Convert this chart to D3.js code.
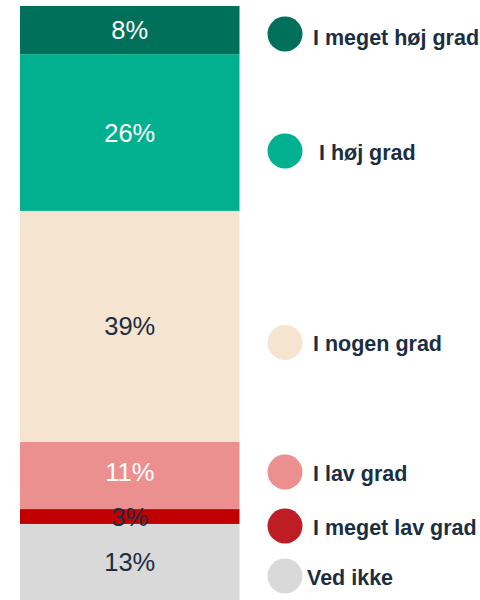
<!DOCTYPE html>
<html>
<head>
<meta charset="utf-8">
<script src="https://cdn.jsdelivr.net/npm/d3@7"></script>
<style>
  html, body { margin: 0; padding: 0; background: #fff; }
  svg { display: block; }
  text { font-family: "Liberation Sans", Arial, sans-serif; white-space: pre; }
</style>
</head>
<body>
<svg id="chart" width="480" height="600"></svg>
<script>
// Data
const categories = ["I meget høj grad", "I høj grad", "I nogen grad", "I lav grad", "I meget lav grad", "Ved ikke"];
const legendLabels = [" I meget høj grad", "  I høj grad", " I nogen grad", " I lav grad", " I meget lav grad", "Ved ikke"];
const values = [8.1, 26.4, 38.9, 11.3, 2.5, 12.8];
const valueLabels = ["8%", "26%", "39%", "11%", "3%", "13%"];
const barColors = ["#00705A", "#00B08E", "#F5E4CF", "#EC8F8F", "#C00000", "#D9D9D9"];
const legendColors = ["#00705A", "#00B08E", "#F5E4CF", "#EC8F8F", "#BE1E23", "#D9D9D9"];
const labelColors = ["#ffffff", "#ffffff", "#1B2E42", "#ffffff", "#1B2E42", "#1B2E42"];

// Layout
const legendY = [34, 151, 342.5, 472, 526, 576];
const svg = d3.select("#chart");
const x = d3.scaleBand().domain(["all"]).range([20, 239.5]).padding(0);
const y = d3.scaleLinear().domain([0, 100]).range([6, 600]);

let cum = 0;
const stacked = values.map((v, i) => {
  const d = { i, cat: categories[i], y0: cum, y1: cum + v };
  cum += v;
  return d;
});

const g = svg.append("g");
g.selectAll("rect.seg").data(stacked).join("rect")
  .attr("class", "seg")
  .attr("x", x("all"))
  .attr("width", x.bandwidth())
  .attr("y", d => y(d.y0))
  .attr("height", d => y(d.y1) - y(d.y0))
  .attr("fill", d => barColors[d.i]);

g.selectAll("text.val").data(stacked).join("text")
  .attr("class", "val")
  .attr("x", x("all") + x.bandwidth() / 2)
  .attr("y", d => (y(d.y0) + y(d.y1)) / 2 + (d.i === 3 ? -4 : 0))
  .attr("text-anchor", "middle")
  .attr("dominant-baseline", "central")
  .attr("font-size", 25.5)
  .attr("fill", d => labelColors[d.i])
  .text(d => valueLabels[d.i]);

const lg = svg.append("g");
const items = lg.selectAll("g.item").data(categories).join("g")
  .attr("class", "item")
  .attr("transform", (d, i) => `translate(0,${legendY[i]})`);
items.append("circle")
  .attr("cx", 285)
  .attr("cy", 0)
  .attr("r", 17.5)
  .attr("fill", (d, i) => legendColors[i]);
items.append("text")
  .attr("x", 307)
  .attr("y", (d, i) => i === 0 ? 4 : 1.5)
  .attr("dominant-baseline", "central")
  .attr("font-size", 21.5)
  .attr("font-weight", "bold")
  .attr("fill", "#1B2E42")
  .attr("xml:space", "preserve")
  .text((d, i) => legendLabels[i]);
</script>
</body>
</html>
